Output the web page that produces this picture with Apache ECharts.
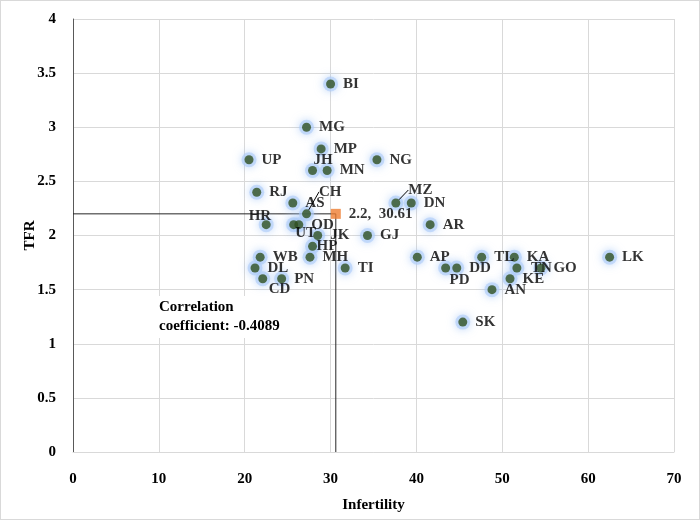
<!DOCTYPE html>
<html><head><meta charset="utf-8">
<script src="https://cdn.jsdelivr.net/npm/echarts@6/dist/echarts.min.js"></script>
<style>html,body{margin:0;padding:0;background:#fff}#c{width:700px;height:520px;box-sizing:border-box;border:1px solid #d9d9d9}</style>
</head><body><div id="c"></div>
<script>
const codes = ['BI','MG','MP','UP','NG','JH','MN','RJ','CH','AS','MZ','DN','HR','UT','OD','AR','JK','GJ','HP','MH','WB','AP','TL','KA','LK','DL','TI','PD','DD','TN','GO','CD','PN','KE','AN','SK'];
const infertility = [30.0,27.2,28.9,20.5,35.4,27.9,29.6,21.4,27.2,25.6,37.6,39.4,22.5,25.7,26.3,41.6,28.5,34.3,27.9,27.6,21.8,40.1,47.6,51.4,62.5,21.2,31.7,43.4,44.7,51.7,54.5,22.1,24.3,50.9,48.8,45.4];
const tfr = [3.4,3.0,2.8,2.7,2.7,2.6,2.6,2.4,2.2,2.3,2.3,2.3,2.1,2.1,2.1,2.1,2.0,2.0,1.9,1.8,1.8,1.8,1.8,1.8,1.8,1.7,1.7,1.7,1.7,1.7,1.7,1.6,1.6,1.6,1.5,1.2];
const meanInfertility = 30.61;
const meanTfr = 2.2;
const corrText = 'Correlation\ncoefficient: -0.4089';

// label nudges (pixels) relative to default right-side placement
const labelShift = {JH:[-11.5,-10], CH:[0,-22], HR:[-30,-9], UT:[-11,8], HP:[-8.5,0], CD:[-6.5,10], PD:[-8.5,12], MZ:[0,-13], TN:[1.5,0]};
const leader = {CH:true, MZ:true};

const font = 'Liberation Serif, Times New Roman, serif';
const chart = echarts.init(document.getElementById('c'));
const pts = codes.map((n,i)=>({name:n, value:[infertility[i], tfr[i]], labelLine:{show:!!leader[n]}}));
const halo = codes.map((n,i)=>[infertility[i], tfr[i]]);
chart.setOption({
  animation:false,
  grid:{left:72,right:25,top:18,bottom:67},
  xAxis:{type:'value',min:0,max:70,interval:10,name:'Infertility',nameLocation:'middle',nameGap:46,
    nameTextStyle:{fontFamily:font,fontWeight:'bold',fontSize:15,color:'#000'},
    axisLine:{show:true,lineStyle:{color:'#d9d9d9'}},axisTick:{show:false},
    axisLabel:{fontFamily:font,fontWeight:'bold',fontSize:15,color:'#000',margin:20},
    splitLine:{lineStyle:{color:'#d9d9d9'}}},
  yAxis:{type:'value',min:0,max:4,interval:0.5,name:'TFR',nameLocation:'middle',nameGap:35,nameMoveOverlap:false,
    nameTextStyle:{fontFamily:font,fontWeight:'bold',fontSize:15,color:'#000'},
    axisLine:{show:true,lineStyle:{color:'#595959'}},axisTick:{show:false},
    axisLabel:{fontFamily:font,fontWeight:'bold',fontSize:15,color:'#000',margin:17},
    splitLine:{lineStyle:{color:'#d9d9d9'}}},
  graphic:[{type:'text',left:152,top:295,z:10,style:{text:corrText,font:'bold 15px '+font,fill:'#000',lineHeight:19,
    backgroundColor:'#fff',padding:[2,6,2,6]}}],
  series:[
    {type:'line',data:[[0,meanTfr],[meanInfertility,meanTfr],[meanInfertility,0]],symbol:'none',
     lineStyle:{color:'#262626',width:1},z:1,silent:true},
    {type:'scatter',data:halo,symbolSize:15,z:2,silent:true,
     itemStyle:{color:'rgba(175,205,248,0.8)',shadowBlur:8,shadowColor:'rgba(150,190,245,0.95)'}},
    {type:'scatter',data:pts,symbolSize:9,z:3,
     itemStyle:{color:'#2f5020'},
     label:{show:true,position:'right',distance:8,formatter:'{b}',fontFamily:font,fontWeight:'bold',fontSize:15,color:'#000'},
     labelLine:{show:false,lineStyle:{color:'#000',width:1}},
     labelLayout:function(p){const s=labelShift[codes[p.dataIndex]]; return s?{dx:s[0],dy:s[1]}:{};}
    },
    {type:'scatter',data:[[meanInfertility,meanTfr]],symbol:'rect',symbolSize:10,z:4,
     itemStyle:{color:'#ED7D31'},
     label:{show:true,position:'right',distance:8,formatter:()=>meanTfr+',  '+meanInfertility,fontFamily:font,fontWeight:'bold',fontSize:15,color:'#000'}}
  ]
});
</script></body></html>
